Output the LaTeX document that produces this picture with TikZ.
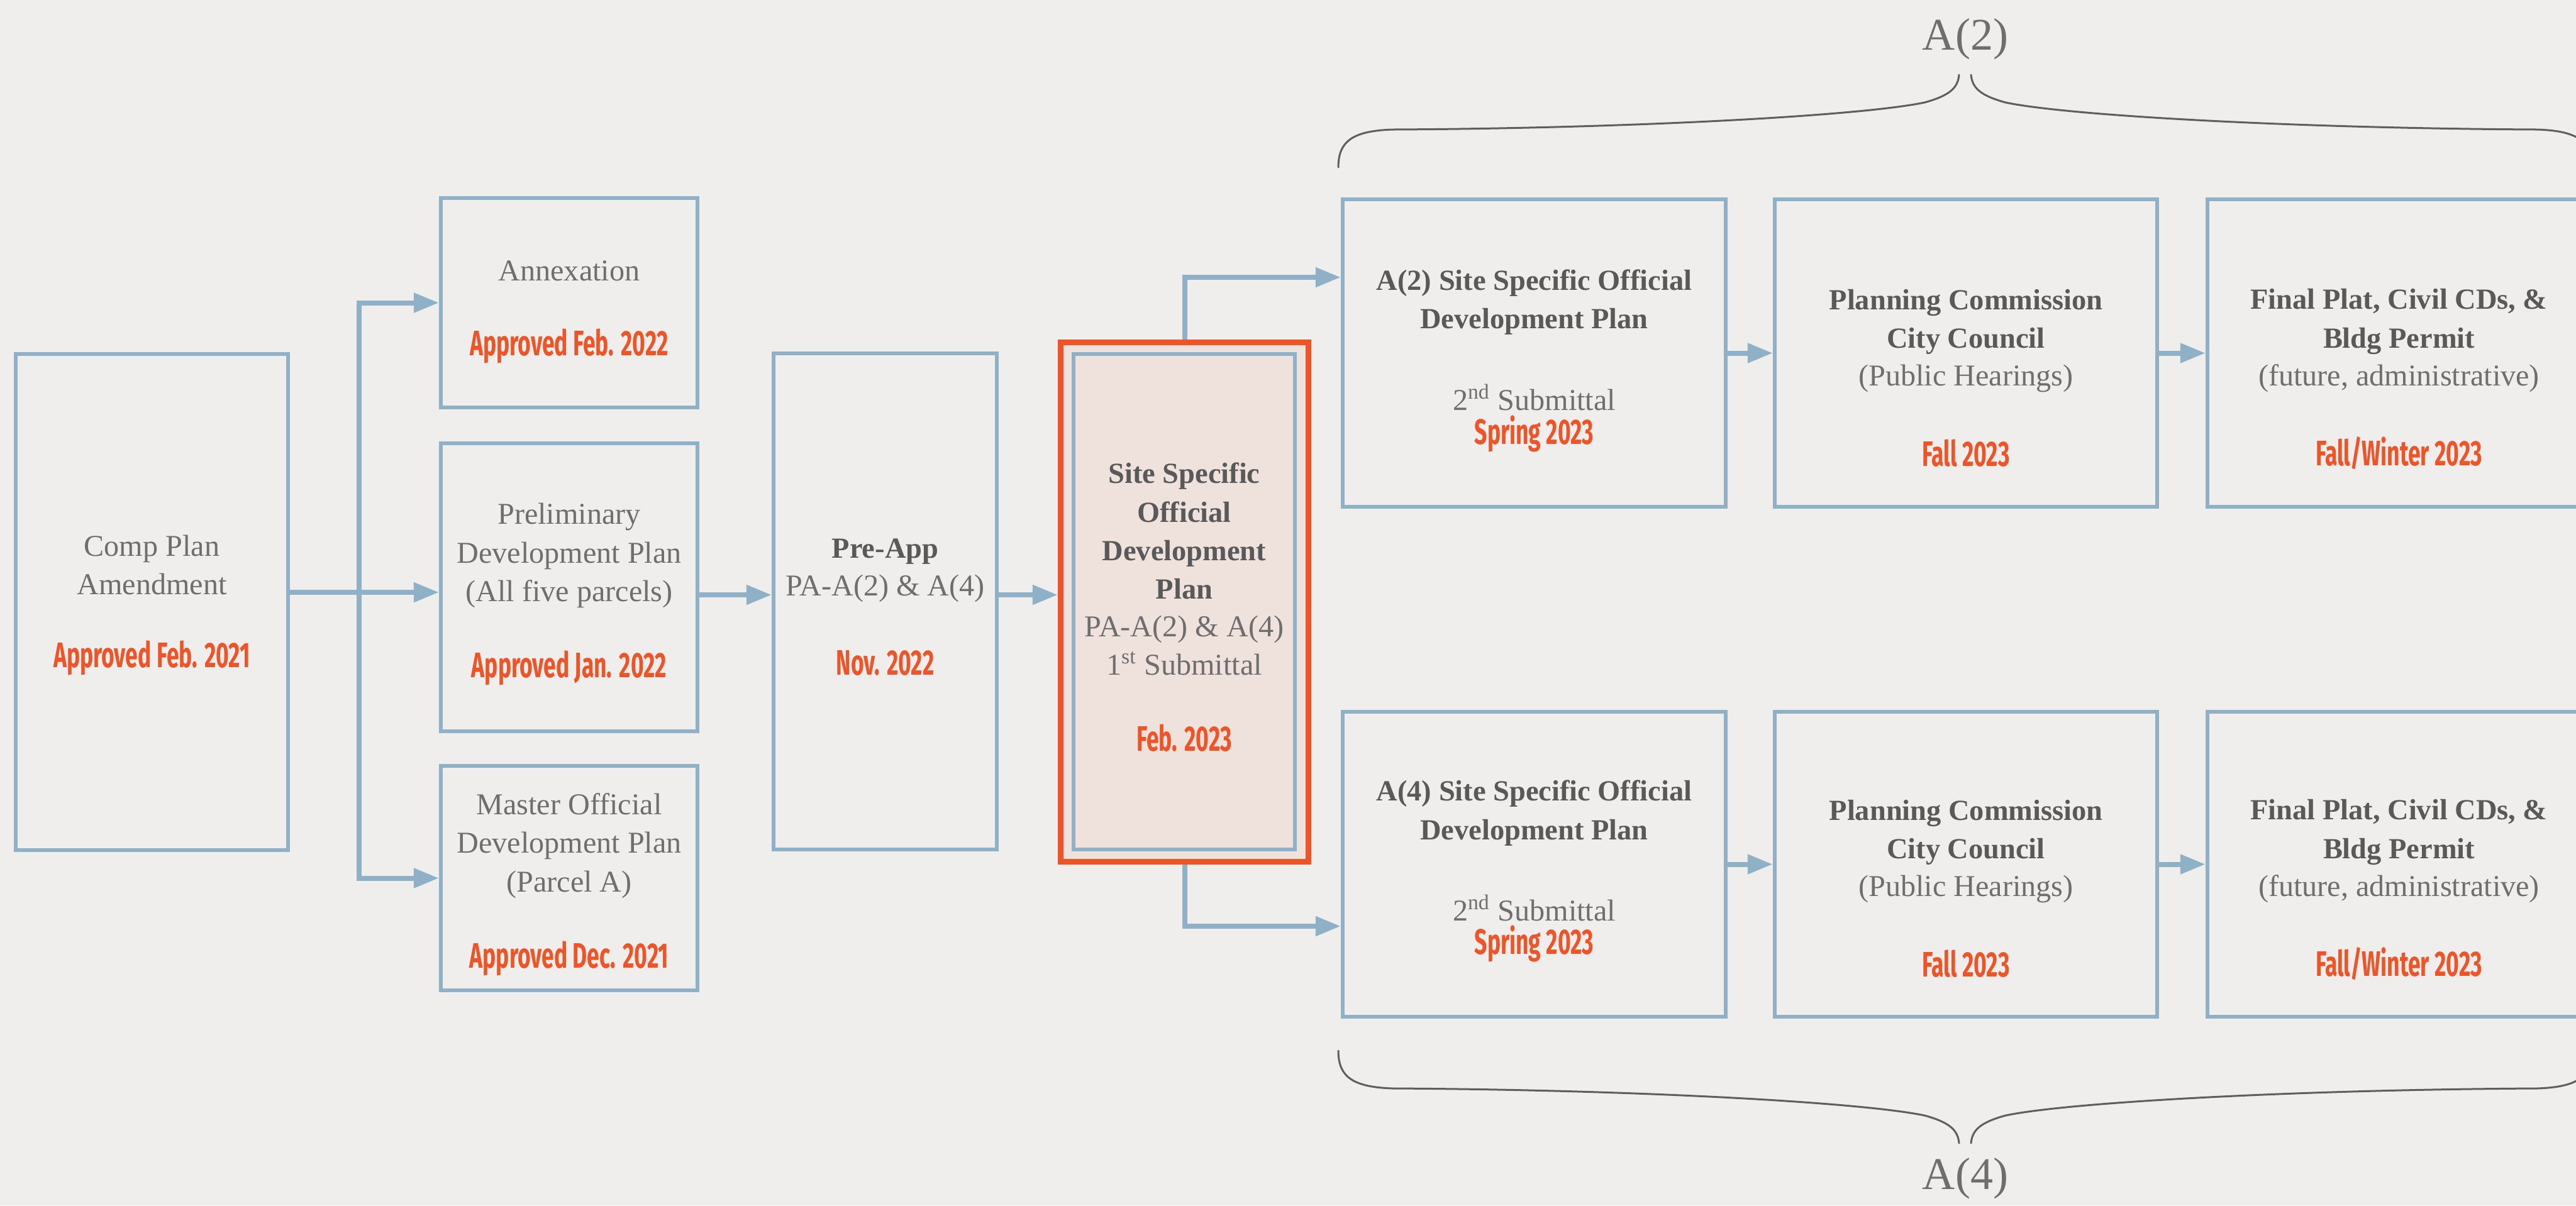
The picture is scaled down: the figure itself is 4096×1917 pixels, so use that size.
\documentclass[tikz,border=0pt]{standalone}
\usepackage{fontspec}
\setmainfont{Liberation Serif}
\newfontfamily\datefont[FakeStretch=0.63]{Fira Sans}
\usetikzlibrary{arrows.meta,calc}
\definecolor{bgc}{HTML}{EFEEEC}
\definecolor{boxblue}{HTML}{8FB1C7}
\definecolor{orangec}{HTML}{EF5326}
\definecolor{pinkc}{HTML}{EFE1DC}
\definecolor{txtgrey}{HTML}{6E6E6E}
\definecolor{boldgrey}{HTML}{595959}
\definecolor{bracegrey}{HTML}{5E5E5E}
\tikzset{
  box/.style={draw=boxblue, line width=0.06cm, inner sep=0pt, rectangle},
  reg/.style={font=\fontsize{13.7}{17.4}\selectfont, text=txtgrey, align=center, inner sep=0pt},
  bld/.style={font=\fontsize{13.2}{17.4}\selectfont\bfseries, text=boldgrey, align=center, inner sep=0pt},
  datetxt/.style={font=\datefont\bfseries\fontsize{16}{18}\selectfont, text=orangec, align=center, inner sep=0pt},
  conn/.style={draw=boxblue, line width=0.08cm, -{Triangle[length=0.4cm,width=0.3cm]}},
  bracepath/.style={draw=bracegrey, line width=0.03cm, line cap=round},
  lbl/.style={font=\fontsize{20.5}{24}\selectfont, text=txtgrey, inner sep=0pt}
}
\begin{document}
\begin{tikzpicture}[x=0.01cm,y=-0.01cm]
\useasboundingbox (0,0) rectangle (4096,1917);
\clip (0,0) rectangle (4096,1917);
\fill[bgc] (0,0) rectangle (4096,1917);

% boxes
\node[box, minimum width=4.33cm, minimum height=7.89cm] (comp) at (241.5,957.5) {};
\node[box, minimum width=4.08cm, minimum height=3.33cm] (annex) at (905,481.5) {};
\node[box, minimum width=4.08cm, minimum height=4.58cm] (prelim) at (905,934) {};
\node[box, minimum width=4.08cm, minimum height=3.57cm] (master) at (905,1396.5) {};
\node[box, minimum width=3.55cm, minimum height=7.89cm] (preapp) at (1407.5,956.5) {};
\node[draw=orangec, fill=pinkc, line width=0.09cm, inner sep=0pt, minimum width=3.94cm, minimum height=8.26cm] (siteo) at (1883.5,957.5) {};
\node[box, minimum width=3.52cm, minimum height=7.88cm] (sitei) at (1883,957) {};
\node[box, minimum width=6.09cm, minimum height=4.89cm] (a2) at (2439.5,561.5) {};
\node[box, minimum width=6.08cm, minimum height=4.89cm] (pc2) at (3126,561.5) {};
\node[box, minimum width=6.09cm, minimum height=4.89cm] (fin2) at (3814.5,561.5) {};
\node[box, minimum width=6.09cm, minimum height=4.85cm] (a4) at (2439.5,1374.5) {};
\node[box, minimum width=6.08cm, minimum height=4.85cm] (pc4) at (3126,1374.5) {};
\node[box, minimum width=6.09cm, minimum height=4.85cm] (fin4) at (3814.5,1374.5) {};

% texts
\node[reg] (tcomp) at (241.5,898.5) {Comp Plan\\Amendment};
\node[datetxt] (dcomp) at (241.5,1046) {Approved Feb. 2021};
\node[reg] (tannex) at (905,431) {Annexation};
\node[datetxt] (dannex) at (905,550) {Approved Feb. 2022};
\node[reg] (tprelim) at (905,883.5) {Preliminary\\Development Plan\\(All five parcels)};
\node[datetxt] (dprelim) at (905,1062) {Approved Jan. 2022};
\node[reg] (tmaster) at (905,1345) {Master Official\\Development Plan\\(Parcel A)};
\node[datetxt] (dmaster) at (905,1524) {Approved Dec. 2021};
\node[bld] (bpre) at (1407.5,877) {Pre-App};
\node[reg] (tpre) at (1407.5,936) {PA-A(2) \& A(4)};
\node[datetxt] (dpre) at (1407.5,1054) {Nov. 2022};
\node[bld] (bsite) at (1883,844.5) {Site Specific\\Official\\Development\\Plan};
\node[reg] (tsite) at (1883,1026.5) {PA-A(2) \& A(4)\\1\textsuperscript{st} Submittal};
\node[datetxt] (dsite) at (1883,1174) {Feb. 2023};

\node[bld] (ba2) at (2439.5,480.5) {A(2) Site Specific Official\\Development Plan};
\node[reg] (ta2) at (2439.5,632) {2\textsuperscript{nd} Submittal};
\node[datetxt] (da2) at (2439.5,690) {Spring 2023};
\node[bld] (bpc2) at (3126,511.5) {Planning Commission\\City Council};
\node[reg] (tpc2) at (3126,602) {(Public Hearings)};
\node[datetxt] (dpc2) at (3126,721) {Fall 2023};
\node[bld] (bfin2) at (3814.5,511.5) {Final Plat, Civil CDs, \&\\Bldg Permit};
\node[reg] (tfin2) at (3814.5,602) {(future, administrative)};
\node[datetxt] (dfin2) at (3814.5,721) {Fall/Winter 2023};

\node[bld] (ba4) at (2439.5,1293) {A(4) Site Specific Official\\Development Plan};
\node[reg] (ta4) at (2439.5,1444) {2\textsuperscript{nd} Submittal};
\node[datetxt] (da4) at (2439.5,1501) {Spring 2023};
\node[bld] (bpc4) at (3126,1323.5) {Planning Commission\\City Council};
\node[reg] (tpc4) at (3126,1414) {(Public Hearings)};
\node[datetxt] (dpc4) at (3126,1533) {Fall 2023};
\node[bld] (bfin4) at (3814.5,1323.5) {Final Plat, Civil CDs, \&\\Bldg Permit};
\node[reg] (tfin4) at (3814.5,1414) {(future, administrative)};
\node[datetxt] (dfin4) at (3814.5,1533) {Fall/Winter 2023};

\node[lbl] (la2) at (3125,62) {A(2)};
\node[lbl] (la4) at (3125,1874) {A(4)};

% connectors
\coordinate (tr) at (571,0);
\coordinate (lv0) at (0,942);
\coordinate (lv1) at (0,946);
\coordinate (lvA) at (0,441);
\coordinate (lvB) at (0,1473);
\draw[conn, {Triangle[length=0.4cm,width=0.3cm]}-{Triangle[length=0.4cm,width=0.3cm]}]
  (annex.west) -- (tr |- annex.west) -- (tr |- master.west) -- (master.west);
\draw[conn] (comp.east |- lv0) -- (prelim.west |- lv0);
\draw[conn] (prelim.east |- lv1) -- (preapp.west |- lv1);
\draw[conn] (preapp.east |- lv1) -- (siteo.west |- lv1);
\draw[conn] (siteo.north) |- (a2.west |- lvA);
\draw[conn] (siteo.south) |- (a4.west |- lvB);
\draw[conn] (a2.east) -- (pc2.west);
\draw[conn] (pc2.east) -- (fin2.west);
\draw[conn] (a4.east) -- (pc4.west);
\draw[conn] (pc4.east) -- (fin4.west);

% top brace
\draw[bracepath] (2128,266) .. controls (2128,225) and (2150,208) .. (2215,206)
  .. controls (2600,204) and (2960,184) .. (3060,163)
  .. controls (3100,152) and (3113,140) .. (3115,119);
\draw[bracepath] (4121,266) .. controls (4121,225) and (4099,208) .. (4034,206)
  .. controls (3649,204) and (3289,184) .. (3189,163)
  .. controls (3149,152) and (3136,140) .. (3134,119);
% bottom brace
\draw[bracepath] (2128,1671) .. controls (2128,1712) and (2150,1729) .. (2215,1731)
  .. controls (2600,1733) and (2960,1753) .. (3060,1774)
  .. controls (3100,1785) and (3113,1797) .. (3115,1818);
\draw[bracepath] (4121,1671) .. controls (4121,1712) and (4099,1729) .. (4034,1731)
  .. controls (3649,1733) and (3289,1753) .. (3189,1774)
  .. controls (3149,1785) and (3136,1797) .. (3134,1818);
\end{tikzpicture}
\end{document}
